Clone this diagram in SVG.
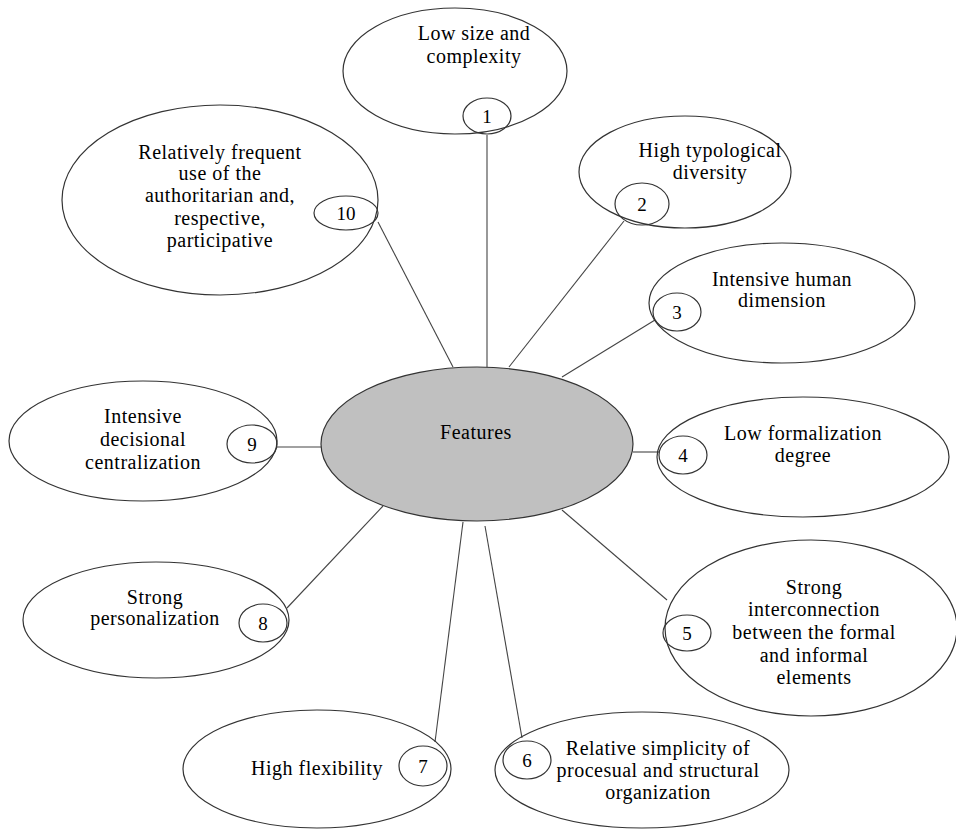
<svg xmlns="http://www.w3.org/2000/svg" width="956" height="830" viewBox="0 0 956 830">
<style>
.big{fill:none;stroke:#333;stroke-width:1.2}
.num{fill:none;stroke:#333;stroke-width:1.2}
.ctr{fill:#c0c0c0;stroke:#333;stroke-width:1.2}
.t{font-family:"Liberation Serif","Times New Roman",serif;font-size:20px;fill:#000;text-anchor:middle;letter-spacing:0.5px}
.n{font-family:"Liberation Serif","Times New Roman",serif;font-size:19px;fill:#000;text-anchor:middle}
#connectors line{stroke:#444;stroke-width:1.1}
</style>
<rect width="956" height="830" fill="#fff"/>
<g id="connectors">
<line x1="487" y1="135" x2="487" y2="367"/>
<line x1="624" y1="221" x2="509" y2="367"/>
<line x1="655" y1="320" x2="562" y2="377"/>
<line x1="633" y1="452" x2="659" y2="452"/>
<line x1="562" y1="510" x2="667" y2="600"/>
<line x1="485" y1="526" x2="522" y2="738"/>
<line x1="463" y1="522" x2="435" y2="742"/>
<line x1="287" y1="608" x2="383" y2="506"/>
<line x1="277" y1="447" x2="321" y2="447"/>
<line x1="378" y1="222" x2="453" y2="367"/>
</g>
<g id="center">
<ellipse class="ctr" cx="477" cy="444" rx="156" ry="77"/>
<text class="t" x="476" y="439">Features</text>
</g>
<g id="node1">
<ellipse class="big" cx="455" cy="71" rx="112" ry="63"/>
<text class="t" x="474" y="40">Low size and</text>
<text class="t" x="474" y="63">complexity</text>
<ellipse class="num" cx="487" cy="116" rx="24" ry="18"/>
<text class="n" x="487" y="123">1</text>
</g>
<g id="node2">
<ellipse class="big" cx="685" cy="172" rx="106" ry="56"/>
<text class="t" x="710" y="157">High typological</text>
<text class="t" x="710" y="179">diversity</text>
<ellipse class="num" cx="642" cy="204" rx="27" ry="21"/>
<text class="n" x="642" y="211">2</text>
</g>
<g id="node3">
<ellipse class="big" cx="782" cy="303" rx="133" ry="60"/>
<text class="t" x="782" y="286">Intensive human</text>
<text class="t" x="782" y="307">dimension</text>
<ellipse class="num" cx="677" cy="312" rx="24" ry="19"/>
<text class="n" x="677" y="319">3</text>
</g>
<g id="node4">
<ellipse class="big" cx="803" cy="457" rx="146" ry="60"/>
<text class="t" x="803" y="440">Low formalization</text>
<text class="t" x="803" y="462">degree</text>
<ellipse class="num" cx="683" cy="455" rx="24" ry="19"/>
<text class="n" x="683" y="462">4</text>
</g>
<g id="node5">
<ellipse class="big" cx="811" cy="628" rx="146" ry="88"/>
<text class="t" x="814" y="594">Strong</text>
<text class="t" x="814" y="616">interconnection</text>
<text class="t" x="814" y="639">between the formal</text>
<text class="t" x="814" y="662">and informal</text>
<text class="t" x="814" y="684">elements</text>
<ellipse class="num" cx="687" cy="633" rx="24" ry="18"/>
<text class="n" x="687" y="640">5</text>
</g>
<g id="node6">
<ellipse class="big" cx="642" cy="770" rx="147" ry="58"/>
<text class="t" x="658" y="755">Relative simplicity of</text>
<text class="t" x="658" y="777">procesual and structural</text>
<text class="t" x="658" y="799">organization</text>
<ellipse class="num" cx="527" cy="760" rx="24" ry="19"/>
<text class="n" x="527" y="767">6</text>
</g>
<g id="node7">
<ellipse class="big" cx="317" cy="769" rx="134" ry="59"/>
<text class="t" x="317" y="775">High flexibility</text>
<ellipse class="num" cx="423" cy="766" rx="24" ry="20"/>
<text class="n" x="423" y="773">7</text>
</g>
<g id="node8">
<ellipse class="big" cx="156" cy="620" rx="133" ry="58"/>
<text class="t" x="155" y="604">Strong</text>
<text class="t" x="155" y="625">personalization</text>
<ellipse class="num" cx="263" cy="623" rx="24" ry="19"/>
<text class="n" x="263" y="630">8</text>
</g>
<g id="node9">
<ellipse class="big" cx="143" cy="441" rx="134" ry="60"/>
<text class="t" x="143" y="423">Intensive</text>
<text class="t" x="143" y="446">decisional</text>
<text class="t" x="143" y="469">centralization</text>
<ellipse class="num" cx="252" cy="444" rx="25" ry="19"/>
<text class="n" x="252" y="451">9</text>
</g>
<g id="node10">
<ellipse class="big" cx="220" cy="200" rx="158" ry="95"/>
<text class="t" x="220" y="159">Relatively frequent</text>
<text class="t" x="220" y="180">use of the</text>
<text class="t" x="220" y="202">authoritarian and,</text>
<text class="t" x="220" y="225">respective,</text>
<text class="t" x="220" y="247">participative</text>
<ellipse class="num" cx="346" cy="213" rx="32" ry="17"/>
<text class="n" x="346" y="220">10</text>
</g>
</svg>
